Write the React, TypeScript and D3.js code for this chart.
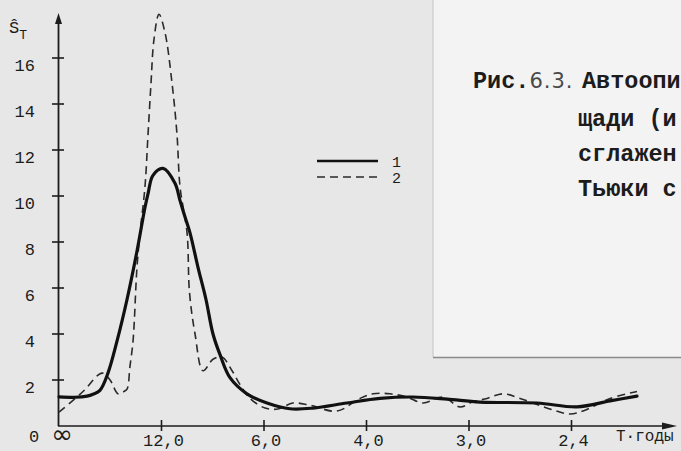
import React, { useEffect, useRef } from 'react';
import * as d3 from 'd3';

// frequency (cycles per year) and spectral estimate
const smoothFreq = [0, 0.013, 0.0228, 0.0276, 0.0333, 0.0398, 0.0472, 0.0553, 0.0634, 0.0699, 0.0724, 0.0764, 0.0846, 0.0943, 0.0984, 0.1024, 0.1065, 0.113, 0.1195, 0.1252, 0.1309, 0.139, 0.1528, 0.1691, 0.1878, 0.2065, 0.2341, 0.261, 0.2878, 0.3154, 0.3423, 0.3886, 0.4211, 0.448, 0.4699];
const smoothValue = [1.27, 1.25, 1.3, 1.38, 1.55, 2.3, 3.7, 5.5, 7.6, 9.5, 10.1, 10.9, 11.2, 10.55, 9.8, 9.1, 8.4, 6.9, 5.5, 4.0, 3.1, 2.1, 1.4, 1.0, 0.75, 0.78, 1.0, 1.2, 1.26, 1.17, 1.04, 1.0, 0.83, 1.09, 1.3];

const rawFreq = [0, 0.0195, 0.035, 0.0415, 0.048, 0.0528, 0.0553, 0.0577, 0.0602, 0.0634, 0.0659, 0.0699, 0.0724, 0.0748, 0.0772, 0.0813, 0.0862, 0.0919, 0.0959, 0.0984, 0.1041, 0.1061, 0.1106, 0.1171, 0.1252, 0.1325, 0.1407, 0.1472, 0.1553, 0.1675, 0.178, 0.1902, 0.2041, 0.226, 0.2447, 0.2553, 0.2691, 0.2829, 0.2959, 0.3122, 0.326, 0.3366, 0.348, 0.361, 0.3748, 0.4016, 0.4154, 0.426, 0.448, 0.4699];
const rawValue = [0.6, 1.5, 2.3, 2.0, 1.4, 1.5, 1.6, 2.6, 3.7, 6.9, 8.4, 10.4, 12.7, 14.9, 16.8, 17.9, 17.1, 14.9, 12.7, 10.4, 8.4, 5.8, 4.0, 2.4, 2.9, 3.0, 2.4, 1.8, 1.2, 0.78, 0.74, 1.0, 0.9, 0.65, 1.2, 1.4, 1.4, 1.26, 1.0, 1.26, 0.83, 1.05, 1.2, 1.4, 1.2, 0.7, 0.52, 0.65, 1.2, 1.5];

const periodTicks = [12, 6, 4, 3, 2.4];
const valueTicks = [2, 4, 6, 8, 10, 12, 14, 16];
const legendLabels = ['1', '2'];
const captionLines = ['щади (и', 'сглажен', 'Тьюки с'];

const mono = '"Liberation Mono", "DejaVu Sans Mono", monospace';
const ink = '#1c1c1c';

const App: React.FC = () => {
  const svgRef = useRef<SVGSVGElement | null>(null);

  useEffect(() => {
    if (!svgRef.current) return;
    const svg = d3.select(svgRef.current);
    svg.selectAll('*').remove();

    const width = 681;
    const height = 451;

    const x = d3.scaleLinear().domain([0, 0.5]).range([59, 674]);
    const y = d3.scaleLinear().domain([0, 18]).range([426, 12]);

    // paper background and the pasted caption sheet
    svg.append('rect').attr('width', width).attr('height', height).attr('fill', '#e7e7e7');
    svg.append('rect').attr('x', 433).attr('y', 0).attr('width', width - 433).attr('height', 357).attr('fill', '#f3f3f3');
    svg.append('line').attr('x1', 433).attr('x2', 433).attr('y1', 0).attr('y2', 357)
      .attr('stroke', '#c4c4c4').attr('stroke-width', 1);
    svg.append('line').attr('x1', 433).attr('x2', width).attr('y1', 357.5).attr('y2', 357.5)
      .attr('stroke', '#8a8a8a').attr('stroke-width', 1.5);

    // caption (cut by the page edge in the scan)
    const cap = svg.append('text').attr('x', 473).attr('y', 88)
      .attr('font-family', mono).attr('font-size', 23.5).attr('font-weight', 'bold').attr('fill', ink);
    cap.append('tspan').text('Рис.');
    cap.append('tspan').attr('font-family', '"DejaVu Sans", sans-serif').attr('font-weight', 'normal')
      .attr('font-size', 21).attr('letter-spacing', 1).attr('fill', '#4a4a4a').text('6.3.');
    cap.append('tspan').attr('x', 582).text('Автоопи');
    captionLines.forEach((t, i) => {
      svg.append('text').attr('x', 578).attr('y', 126 + i * 35)
        .attr('font-family', mono).attr('font-size', 23.5).attr('font-weight', 'bold').attr('fill', ink)
        .text(t);
    });

    const g = svg.append('g');

    // axes
    g.append('line').attr('x1', 58.5).attr('x2', 58.5).attr('y1', 426).attr('y2', 20)
      .attr('stroke', ink).attr('stroke-width', 1.8);
    g.append('path').attr('d', 'M58.5,13 L55,24 L62,24 Z').attr('fill', ink);
    g.append('line').attr('x1', 58).attr('x2', 668).attr('y1', 426).attr('y2', 426)
      .attr('stroke', ink).attr('stroke-width', 1.6);
    g.append('path').attr('d', 'M677,426 L662,422.5 L662,429.5 Z').attr('fill', ink);

    g.selectAll('.ytick').data(valueTicks).enter().append('line')
      .attr('x1', 52).attr('x2', 64)
      .attr('y1', d => y(d)).attr('y2', d => y(d))
      .attr('stroke', ink).attr('stroke-width', 1.6);
    g.selectAll('.ylab').data(valueTicks).enter().append('text')
      .attr('x', 35).attr('y', d => y(d) + 13)
      .attr('text-anchor', 'end').attr('font-family', mono).attr('font-size', 17).attr('fill', ink)
      .text(d => String(d));

    g.selectAll('.xtick').data(periodTicks).enter().append('line')
      .attr('x1', d => x(1 / d)).attr('x2', d => x(1 / d))
      .attr('y1', 420).attr('y2', 431)
      .attr('stroke', ink).attr('stroke-width', 1.6);
    g.selectAll('.xlab').data(periodTicks).enter().append('text')
      .attr('x', d => x(1 / d) + 2).attr('y', 446)
      .attr('text-anchor', 'middle').attr('font-family', mono).attr('font-size', 17).attr('fill', ink)
      .text(d => d3.format('.1f')(d).replace('.', ','));

    g.append('text').attr('x', 34).attr('y', 442).attr('text-anchor', 'middle')
      .attr('font-family', mono).attr('font-size', 17).attr('fill', ink).text('0');
    g.append('text').attr('x', x(0) + 3).attr('y', 443).attr('text-anchor', 'middle')
      .attr('font-family', '"DejaVu Sans", sans-serif').attr('font-size', 26).attr('fill', ink).text('∞');
    g.append('text').attr('x', 616).attr('y', 441)
      .attr('font-family', mono).attr('font-size', 16).attr('fill', ink).text('T·годы');

    const yl = g.append('text').attr('x', 9).attr('y', 33)
      .attr('font-family', mono).attr('font-size', 17).attr('fill', ink);
    yl.append('tspan').text('Ŝ');
    yl.append('tspan').attr('dy', 6).attr('font-size', 13).text('T');

    // curves
    const line = d3.line<[number, number]>()
      .x(d => x(d[0]))
      .y(d => y(d[1]))
      .curve(d3.curveCatmullRom.alpha(0.5));

    const raw: [number, number][] = rawFreq.map((f, i) => [f, rawValue[i]]);
    const smooth: [number, number][] = smoothFreq.map((f, i) => [f, smoothValue[i]]);

    g.append('path').attr('d', line(raw) || '').attr('fill', 'none')
      .attr('stroke', '#2a2a2a').attr('stroke-width', 1.6).attr('stroke-dasharray', '8,5');
    g.append('path').attr('d', line(smooth) || '').attr('fill', 'none')
      .attr('stroke', '#111').attr('stroke-width', 3.2).attr('stroke-linecap', 'round');

    // legend
    const legend = g.append('g');
    legendLabels.forEach((lab, i) => {
      const ly = 161 + i * 16;
      legend.append('line').attr('x1', 317).attr('x2', 378).attr('y1', ly).attr('y2', ly)
        .attr('stroke', i === 0 ? '#111' : '#2a2a2a')
        .attr('stroke-width', i === 0 ? 2.6 : 1.6)
        .attr('stroke-dasharray', i === 0 ? null : '8,5');
      legend.append('text').attr('x', 392).attr('y', ly + 6)
        .attr('font-family', mono).attr('font-size', 15).attr('fill', ink).text(lab);
    });
  }, []);

  return (
    <svg ref={svgRef} width={681} height={451}
      style={{ position: 'absolute', left: 0, top: 0, display: 'block' }} />
  );
};

export default App;
